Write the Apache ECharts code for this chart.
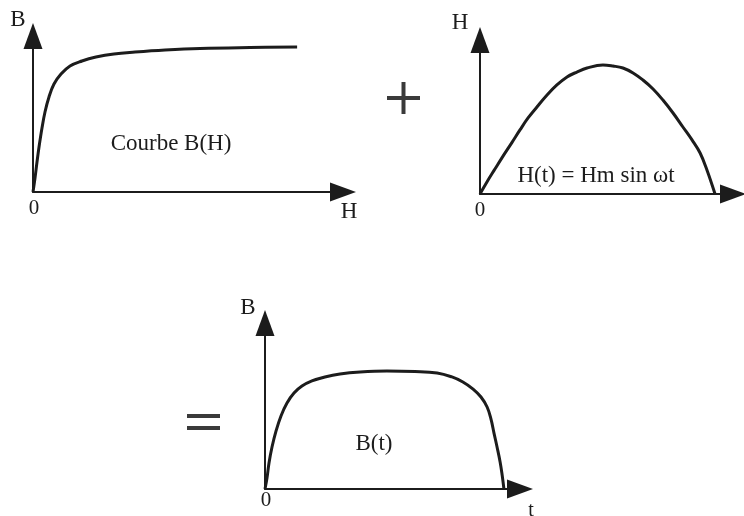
<!DOCTYPE html>
<html>
<head>
<meta charset="utf-8">
<script src="https://cdn.jsdelivr.net/npm/echarts@6/dist/echarts.min.js"></script>
<style>
    html, body { margin: 0; padding: 0; background: #fff; }
    #chart { width: 744px; height: 516px; }
</style>
</head>
<body>
<div id="chart"></div>
<script>
// Courbe B(H): champ H (0..100) -> induction B (0..100)
const bhH = [0, 0.65, 1.29, 1.94, 2.9, 3.87, 5.16, 6.77, 9.03, 11.94, 15.8, 20.3, 26.1, 32.9, 42.6, 53.9, 70, 85.2];
const bhB = [0, 9, 19.2, 28.8, 41, 51.3, 60.9, 69.2, 75.6, 80.8, 84, 86.5, 88.5, 89.7, 91, 92, 92.6, 92.9];

// H(t) = Hm sin wt, une demi-période
const htT = [0, 2.8, 5.9, 9.1, 12.6, 15.8, 19, 22.5, 26.5, 30.4, 34.4, 38.3, 42.3, 48.6,
    52.6, 56.5, 60.5, 64.4, 68.4, 72.3, 76.3, 80.2, 83.8, 87, 89.7, 92.9];
const htH = [0, 8, 16.2, 24.6, 33.4, 41.6, 49.4, 56.5, 64.3, 70.8, 76, 79.2, 81.8, 83.8,
    83.1, 81.8, 78.6, 74, 68.2, 61, 52.6, 43.5, 35.1, 26.6, 15.6, 0];

// B(t) résultant
const btT = [0, 0.78, 1.57, 2.75, 4.31, 6.27, 8.63, 11.37, 14.5, 18.4, 23.5, 29.4, 37.3, 47.8, 58.8,
    67.5, 73.3, 77.6, 81.6, 84.7, 87.1, 88.6, 89.8, 91, 92.2, 93, 93.7];
const btB = [0, 6.6, 15.7, 25.3, 34.9, 44, 51.8, 57.8, 62, 65.1, 67.5, 69.3, 70.5, 71.1, 70.8,
    69.9, 67.5, 64.5, 60.2, 55.4, 49.4, 42.2, 33.7, 25.3, 16.3, 8.4, 0];

const pairs = (xs, ys) => xs.map((x, i) => [x, ys[i]]);

const ink = '#1c1c1c';
const serif = '"Liberation Serif", "DejaVu Serif", serif';

const axis = gridIndex => ({
    type: 'value',
    gridIndex: gridIndex,
    min: 0,
    max: 100,
    axisLine: {
        show: true,
        onZero: false,
        symbol: ['none', 'triangle'],
        symbolSize: [19, 26],
        lineStyle: { color: ink, width: 2 }
    },
    axisTick: { show: false },
    axisLabel: { show: false },
    splitLine: { show: false }
});

const curve = (idx, data) => ({
    type: 'line',
    xAxisIndex: idx,
    yAxisIndex: idx,
    data: data,
    smooth: 0.4,
    showSymbol: false,
    silent: true,
    lineStyle: { color: ink, width: 3 }
});

const label = (text, x, y, size) => ({
    type: 'text',
    x: x,
    y: y,
    style: {
        text: text,
        fill: ink,
        font: (size || 23) + 'px ' + serif,
        align: 'center',
        verticalAlign: 'middle'
    }
});

const bar = (x1, y1, x2, y2) => ({
    type: 'line',
    shape: { x1: x1, y1: y1, x2: x2, y2: y2 },
    style: { stroke: '#3a3a3a', lineWidth: 4 }
});

const chart = echarts.init(document.getElementById('chart'));
const option = {
    backgroundColor: '#fff',
    animation: false,
    grid: [
        { left: 33, top: 36, width: 310, height: 156 },
        { left: 480, top: 40, width: 253, height: 154 },
        { left: 265, top: 323, width: 255, height: 166 }
    ],
    xAxis: [axis(0), axis(1), axis(2)],
    yAxis: [axis(0), axis(1), axis(2)],
    series: [
        curve(0, pairs(bhH, bhB)),
        curve(1, pairs(htT, htH)),
        curve(2, pairs(btT, btB))
    ],
    graphic: [
        label('B', 18, 20),
        label('0', 34, 208, 21),
        label('H', 349, 212),
        label('Courbe B(H)', 171, 144),
        label('H', 460, 23),
        label('0', 480, 210, 21),
        label('H(t) = Hm sin \u03c9t', 596, 176),
        label('B', 248, 308),
        label('0', 266, 500, 21),
        label('t', 531, 511, 20),
        label('B(t)', 374, 444),
        // signe +
        bar(387, 98, 420, 98),
        bar(403.5, 82, 403.5, 114),
        // signe =
        bar(187, 416, 220, 416),
        bar(187, 428, 220, 428)
    ]
};
chart.setOption(option);
</script>
</body>
</html>
